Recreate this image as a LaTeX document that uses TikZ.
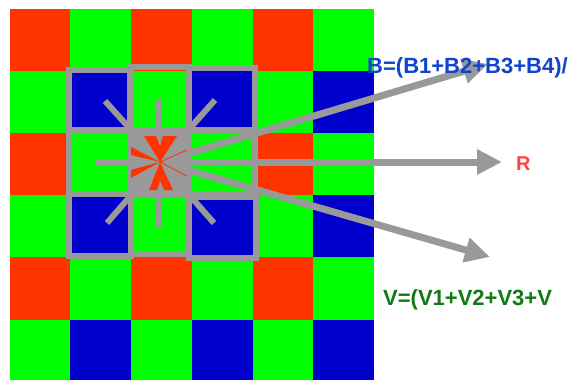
\documentclass[tikz,border=0pt]{standalone}
\usepackage{fontspec}
\setmainfont{Liberation Sans}
\usetikzlibrary{arrows.meta}
\definecolor{cred}{HTML}{FF3300}
\definecolor{cgreen}{HTML}{00FF00}
\definecolor{cblue}{HTML}{0000CC}
\definecolor{cgray}{HTML}{999999}
\definecolor{tblue}{HTML}{1144CC}
\definecolor{tgreen}{HTML}{117A11}
\definecolor{tred}{HTML}{FF4444}
\tikzset{
  boxline/.style={draw=cgray, line width=6pt},
  ray/.style={draw=cgray, line width=6pt},
  bigarrow/.style={draw=cgray, line width=7pt, -{Triangle[length=25pt,width=24pt]}, color=cgray},
  lbl/.style={inner sep=0pt, anchor=base west, font=\bfseries\fontsize{22}{24}\selectfont},
}
\begin{document}
\begin{tikzpicture}[x=1pt,y=-1pt]
\useasboundingbox (0,0) rectangle (574,380);
\fill[white] (0,0) rectangle (574,380);
% Bayer grid
\def\xs{{10,70,131,192,253,313,374}}
\def\ys{{9,71,133,195,257,320,380}}
\foreach \r in {0,...,5}{
  \foreach \c in {0,...,5}{
    \pgfmathsetmacro\xa{\xs[\c]}
    \pgfmathsetmacro\xb{\xs[\c+1]}
    \pgfmathsetmacro\ya{\ys[\r]}
    \pgfmathsetmacro\yb{\ys[\r+1]}
    \pgfmathtruncatemacro\re{mod(\r,2)}
    \pgfmathtruncatemacro\ce{mod(\c,2)}
    \ifnum\re=0
      \ifnum\ce=0 \def\cc{cred}\else\def\cc{cgreen}\fi
    \else
      \ifnum\ce=0 \def\cc{cgreen}\else\def\cc{cblue}\fi
    \fi
    \fill[\cc] (\xa,\ya) rectangle (\xb,\yb);
  }
}
% gray boxes
\draw[boxline] (69,70) rectangle (130,130);
\draw[boxline] (131,67) rectangle (189,130);
\draw[boxline] (189,68) rectangle (255,130);
\draw[boxline] (69,130) rectangle (131,194);
\draw[boxline] (189,130) rectangle (255,194);
\draw[boxline] (69,194) rectangle (131,256);
\draw[boxline] (131,194) rectangle (189,254);
\draw[boxline] (189,197) rectangle (256,258);
\fill[cgray] (128,127) rectangle (192,197);
% center and ray ends
\coordinate (c) at (160,162);
\coordinate (rt) at (158,100);
\coordinate (rb) at (158,227);
\coordinate (rl) at (96,162);
\coordinate (rul) at (105,101);
\coordinate (rur) at (215,100);
\coordinate (rll) at (107,223);
\coordinate (rlr) at (214,223);
\foreach \p in {rt,rb,rl,rul,rur,rll,rlr}{\draw[ray] (\p) -- (c);}
% long arrows
\coordinate (tb) at (488,64);
\coordinate (tr) at (502,162);
\coordinate (tv) at (490,257);
\draw[bigarrow] (c) -- (tb);
\draw[bigarrow] (c) -- (tr);
\draw[bigarrow] (c) -- (tv);
% red star
\fill[cred] (144,136) -- (156,136) -- (160,146) -- (163,136) -- (177,136) -- (c)
  -- (173,190) -- (164,190) -- (160,180) -- (157,190) -- (149,190) -- (c) -- cycle;
\fill[cred] (131,147) -- (131,155) -- (c) -- cycle;
\fill[cred] (131,170) -- (131,178) -- (c) -- cycle;
\draw[cred, line width=0.8pt] (c) -- (187,150);
\draw[cred, line width=0.8pt] (c) -- (187,176);
% labels
\node[lbl, text=tblue] (lb) at (367,73) {B=(B1+B2+B3+B4)/};
\node[lbl, text=tred, font=\bfseries\fontsize{20}{22}\selectfont] (lr) at (516,170) {R};
\node[lbl, text=tgreen] (lv) at (383,305) {V=(V1+V2+V3+V};
\end{tikzpicture}
\end{document}
